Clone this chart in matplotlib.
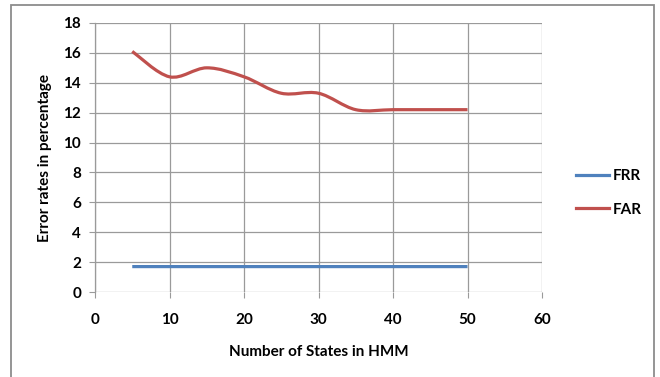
import numpy as np
import matplotlib
matplotlib.use("Agg")
import matplotlib.pyplot as plt
from matplotlib.path import Path
from matplotlib.patches import PathPatch, Rectangle
from matplotlib.lines import Line2D

plt.rcParams['font.family'] = ['Lato', 'DejaVu Sans']
plt.rcParams['font.weight'] = 'bold'

# Number of HMM states and the measured error rates (%)
states = [5, 10, 15, 20, 25, 30, 35, 40, 45, 50]
frr = [1.7, 1.7, 1.7, 1.7, 1.7, 1.7, 1.7, 1.7, 1.7, 1.7]
far = [16.1, 14.4, 15.0, 14.4, 13.3, 13.3, 12.2, 12.2, 12.2, 12.2]
series_names = ["FRR", "FAR"]
series_colors = ["#4F81BD", "#C0504D"]
xticks = [0, 10, 20, 30, 40, 50, 60]
yticks = [0, 2, 4, 6, 8, 10, 12, 14, 16, 18]


def smooth_path(x, y):
    """Smoothed line through the points (cubic Bezier, Catmull-Rom tangents)."""
    x = np.asarray(x, float)
    y = np.asarray(y, float)
    n = len(x)
    verts = [(x[0], y[0])]
    codes = [Path.MOVETO]
    for i in range(n - 1):
        i0 = max(i - 1, 0)
        i3 = min(i + 2, n - 1)
        c1 = (x[i] + (x[i + 1] - x[i0]) / 6, y[i] + (y[i + 1] - y[i0]) / 6)
        c2 = (x[i + 1] - (x[i3] - x[i]) / 6, y[i + 1] - (y[i3] - y[i]) / 6)
        verts += [c1, c2, (x[i + 1], y[i + 1])]
        codes += [Path.CURVE4] * 3
    return Path(verts, codes)


fig = plt.figure(figsize=(6.6, 3.77), dpi=100)
fig.patches.append(Rectangle((11 / 660, -0.05), (654 - 11) / 660, 1.05 - 5 / 377,
                             transform=fig.transFigure, fill=False,
                             edgecolor="#8c8c8c", linewidth=1.3))

ax = fig.add_axes([95 / 660, 1 - 292 / 377, (542 - 95) / 660, (292 - 23) / 377])
ax.set_xlim(0, 60)
ax.set_ylim(0, 18)
ax.set_xticks(xticks)
ax.set_yticks(yticks)
ax.grid(True, color="#9a9a9a", linewidth=0.9)
ax.set_axisbelow(True)
for side in ["top", "right", "bottom"]:
    ax.spines[side].set_visible(False)
ax.spines["left"].set_color("#9a9a9a")
ax.spines["left"].set_linewidth(0.9)
ax.tick_params(axis="y", length=4, color="#9a9a9a", labelsize=11, pad=6)
ax.tick_params(axis="x", length=4, color="#9a9a9a", labelsize=11, pad=11)

for vals, name, col in zip([frr, far], series_names, series_colors):
    ax.add_patch(PathPatch(smooth_path(states, vals), fill=False,
                           edgecolor=col, linewidth=2.3, capstyle="butt"))

ax.set_xlabel("Number of States in HMM", fontsize=11, fontweight="bold", labelpad=13)
ax.set_ylabel("Error rates in percentage", fontsize=11, fontweight="bold", labelpad=8)

handles = [Line2D([], [], color=c, linewidth=2.3) for c in series_colors]
fig.legend(handles, series_names, loc="center left",
           bbox_to_anchor=(562 / 660, 1 - 193 / 377), frameon=False,
           handlelength=2.2, handletextpad=0.2, labelspacing=1.25,
           prop={"weight": "bold", "size": 11})

fig.savefig("out.png", dpi=100)
